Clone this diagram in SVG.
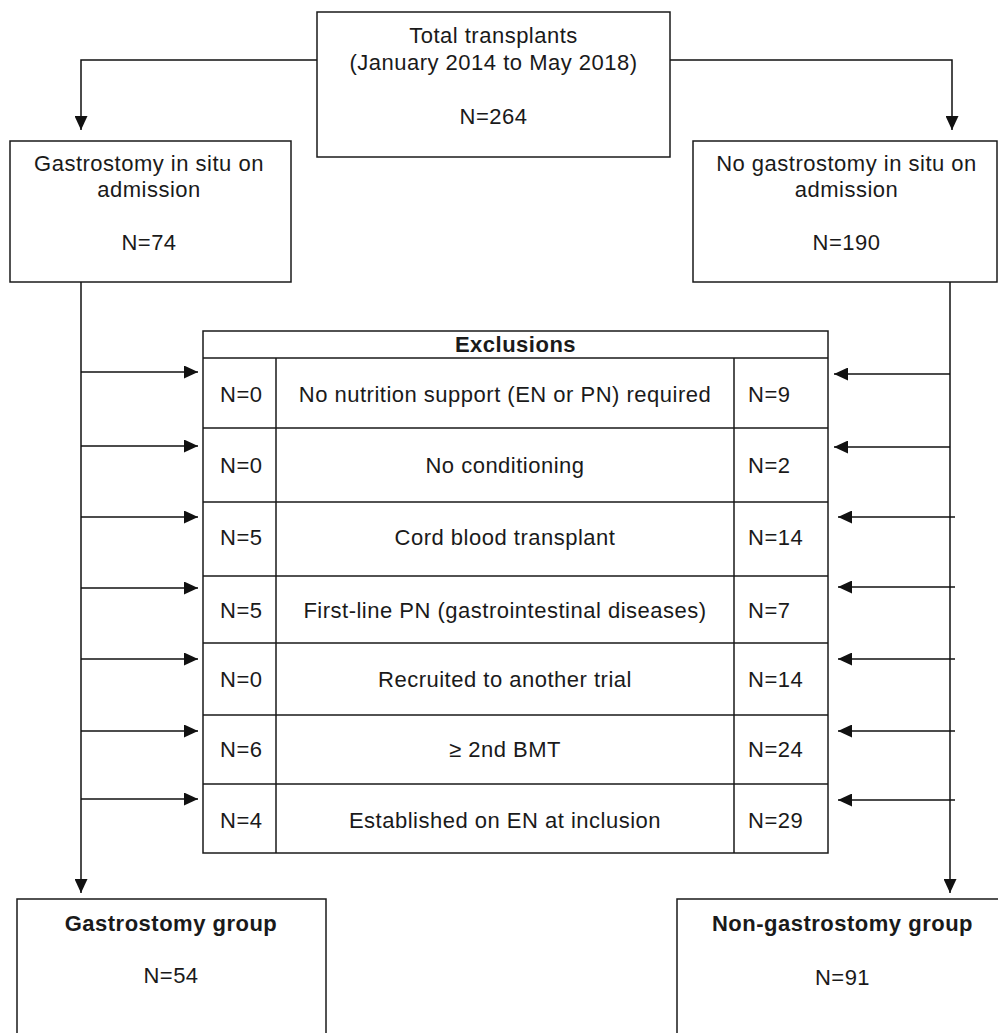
<svg xmlns="http://www.w3.org/2000/svg" width="998" height="1033" viewBox="0 0 998 1033">
<style>
.box{fill:#fff;stroke:#1a1a1a;stroke-width:1.5}
.ln{fill:none;stroke:#1a1a1a;stroke-width:1.5}
.conn{fill:none;stroke:#111;stroke-width:1.5;marker-end:url(#ah)}
text{font-family:"Liberation Sans",Arial,Helvetica,sans-serif;font-size:22px;fill:#1a1a1a;letter-spacing:0.5px}
.c{text-anchor:middle}
.b{font-weight:bold}
</style>
<defs>
<marker id="ah" markerUnits="userSpaceOnUse" markerWidth="15" markerHeight="13" refX="14" refY="6.5" orient="auto">
<path d="M0,0 L14,6.5 L0,13 z" fill="#111"/>
</marker>
</defs>
<rect width="998" height="1033" fill="#fff"/>
<g id="connectors">
<path class="conn" d="M317,60 H81 V130"/>
<path class="conn" d="M670,60 H952 V130"/>
<path class="conn" d="M81,282 V893"/>
<path class="conn" d="M950,282 V893"/>
<path class="conn" d="M81,372 H198"/>
<path class="conn" d="M81,446 H198"/>
<path class="conn" d="M81,517 H198"/>
<path class="conn" d="M81,588 H198"/>
<path class="conn" d="M81,659 H198"/>
<path class="conn" d="M81,731 H198"/>
<path class="conn" d="M81,799 H198"/>
<path class="conn" d="M950,374 H834"/>
<path class="conn" d="M950,447 H834"/>
<path class="conn" d="M955,517 H838"/>
<path class="conn" d="M955,587 H838"/>
<path class="conn" d="M955,659 H838"/>
<path class="conn" d="M955,731 H838"/>
<path class="conn" d="M955,800 H838"/>
</g>
<g id="total">
<rect class="box" x="317" y="12" width="353" height="145"/>
<text class="c" x="493.5" y="43">Total transplants</text>
<text class="c" x="493.5" y="70">(January 2014 to May 2018)</text>
<text class="c" x="493.5" y="124">N=264</text>
</g>
<g id="gastro-insitu">
<rect class="box" x="10" y="141" width="281" height="141"/>
<text class="c" x="149" y="171">Gastrostomy in situ on</text>
<text class="c" x="149" y="197">admission</text>
<text class="c" x="149" y="250">N=74</text>
</g>
<g id="no-gastro-insitu">
<rect class="box" x="693" y="141" width="304" height="141"/>
<text class="c" x="846.5" y="171">No gastrostomy in situ on</text>
<text class="c" x="846.5" y="197">admission</text>
<text class="c" x="846.5" y="250">N=190</text>
</g>
<g id="exclusions">
<rect class="box" x="203" y="331" width="625" height="522"/>
<path class="ln" d="M203,358 H828 M203,428 H828 M203,502 H828 M203,576 H828 M203,643 H828 M203,715 H828 M203,784 H828 M276,358 V853 M734,358 V853"/>
<text class="c b" x="515.5" y="352">Exclusions</text>
<text x="220" y="402">N=0</text>
<text class="c" x="505" y="402">No nutrition support (EN or PN) required</text>
<text x="748" y="402">N=9</text>
<text x="220" y="473">N=0</text>
<text class="c" x="505" y="473">No conditioning</text>
<text x="748" y="473">N=2</text>
<text x="220" y="545">N=5</text>
<text class="c" x="505" y="545">Cord blood transplant</text>
<text x="748" y="545">N=14</text>
<text x="220" y="618">N=5</text>
<text class="c" x="505" y="618">First-line PN (gastrointestinal diseases)</text>
<text x="748" y="618">N=7</text>
<text x="220" y="687">N=0</text>
<text class="c" x="505" y="687">Recruited to another trial</text>
<text x="748" y="687">N=14</text>
<text x="220" y="757">N=6</text>
<text class="c" x="505" y="757">≥ 2nd BMT</text>
<text x="748" y="757">N=24</text>
<text x="220" y="828">N=4</text>
<text class="c" x="505" y="828">Established on EN at inclusion</text>
<text x="748" y="828">N=29</text>
</g>
<g id="gastro-group">
<rect class="box" x="17" y="899" width="309" height="150"/>
<text class="c b" x="171" y="931">Gastrostomy group</text>
<text class="c" x="171" y="983">N=54</text>
</g>
<g id="non-gastro-group">
<rect class="box" x="677" y="899" width="330" height="150"/>
<text class="c b" x="842.5" y="931">Non-gastrostomy group</text>
<text class="c" x="842.5" y="985">N=91</text>
</g>
</svg>
